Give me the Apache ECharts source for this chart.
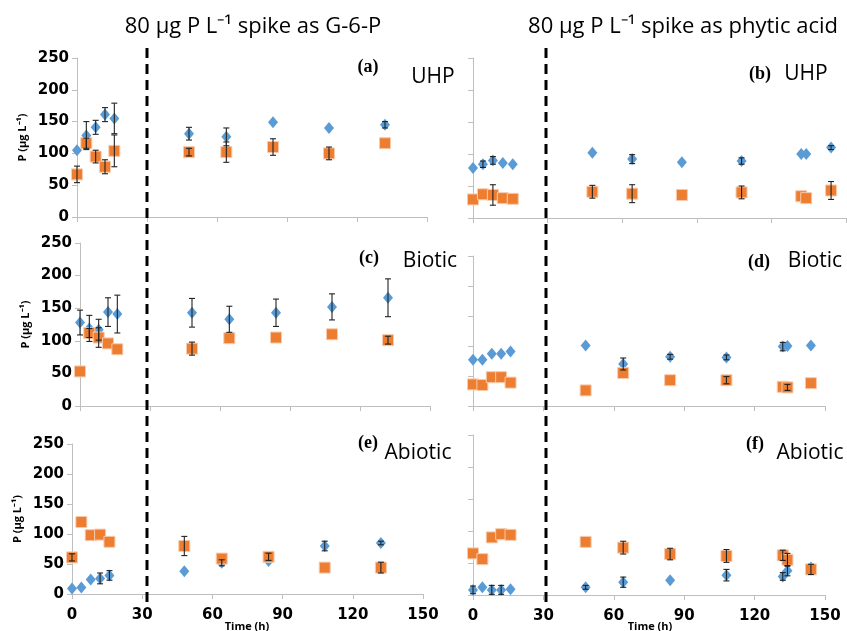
<!DOCTYPE html>
<html>
<head>
<meta charset="utf-8">
<script src="https://cdn.jsdelivr.net/npm/echarts@6/dist/echarts.min.js"></script>
<style>
  html, body { margin: 0; padding: 0; background: #fff; }
  #main { width: 847px; height: 631px; }
</style>
</head>
<body>
<div id="main"></div>
<script>
// sampling times (h)
var hoursLeft = [0, 4, 8, 12, 16, 48, 64, 84, 108, 132];
var hoursRight = [0, 4, 8, 12, 16, 48, 64, 84, 108, 132, 134, 144];
var xTicks = [0, 30, 60, 90, 120, 150];
var yTicks = [0, 50, 100, 150, 200, 250];

// (a) UHP, G-6-P
var aBlue = [105, 128, 141, 161, 155, 131, 126, 149, 140, 145];
var aBlueErr = [0, 22, 11, 11, 24, 10, 14, 0, 0, 5];
var aOrange = [67, 116, 95, 79, 104, 102, 102, 110, 100, 116];
var aOrangeErr = [13, 8, 10, 11, 25, 6, 16, 13, 10, 0];

// (b) UHP, phytic acid
var bBlue = [78, 84, 90, 86, 84, 102, 92, 87, 89, 100, 100, 110];
var bBlueErr = [0, 5, 6, 0, 0, 0, 7, 0, 5, 0, 0, 3];
var bOrange = [29, 37, 36, 31, 30, 41, 38, 36, 40, 34, 31, 43];
var bOrangeErr = [0, 0, 16, 0, 0, 10, 14, 0, 10, 0, 0, 14];

// (c) Biotic, G-6-P
var cBlue = [128, 119, 117, 144, 141, 143, 133, 143, 152, 166];
var cBlueErr = [19, 20, 16, 22, 29, 22, 20, 21, 20, 29];
var cOrange = [53, 112, 105, 96, 87, 88, 104, 105, 110, 101];
var cOrangeErr = [0, 7, 15, 0, 0, 10, 0, 0, 0, 6];

// (d) Biotic, phytic acid
var dBlue = [77, 77, 87, 87, 91, 101, 70, 82, 81, 99, 100, 101];
var dBlueErr = [0, 0, 0, 0, 0, 0, 10, 4, 4, 7, 0, 0];
var dOrange = [36, 35, 48, 48, 39, 26, 55, 43, 43, 32, 31, 38];
var dOrangeErr = [0, 0, 0, 0, 0, 0, 0, 0, 6, 0, 5, 0];

// (e) Abiotic, G-6-P
var eBlue = [9, 11, 24, 26, 31, 38, 52, 55, 80, 85];
var eBlueErr = [0, 0, 0, 9, 8, 0, 5, 0, 8, 3];
var eOrange = [61, 120, 98, 99, 87, 80, 59, 62, 44, 44];
var eOrangeErr = [6, 0, 0, 0, 0, 16, 0, 6, 0, 9];

// (f) Abiotic, phytic acid
var fBlue = [8, 12, 8, 8, 9, 12, 20, 23, 31, 29, 38, 43];
var fBlueErr = [6, 0, 7, 7, 0, 3, 8, 0, 9, 6, 8, 0];
var fOrange = [65, 56, 90, 95, 94, 83, 74, 64, 61, 62, 55, 40];
var fOrangeErr = [0, 0, 0, 0, 0, 0, 10, 9, 10, 8, 10, 8];

var BLUE = '#5B9BD5';
var ORANGE = '#ED7D31';
var AXIS = '#bfbfbf';

var panels = [
  { hours: hoursLeft, blue: aBlue, blueErr: aBlueErr, orange: aOrange, orangeErr: aOrangeErr,
    box: { left: 77, top: 58, width: 350, height: 159 }, yLabels: true, xLabels: false },
  { hours: hoursRight, blue: bBlue, blueErr: bBlueErr, orange: bOrange, orangeErr: bOrangeErr,
    box: { left: 473, top: 58, width: 373, height: 160 }, yLabels: false, xLabels: false },
  { hours: hoursLeft, blue: cBlue, blueErr: cBlueErr, orange: cOrange, orangeErr: cOrangeErr,
    box: { left: 80, top: 243, width: 350, height: 163 }, yLabels: true, xLabels: false },
  { hours: hoursRight, blue: dBlue, blueErr: dBlueErr, orange: dOrange, orangeErr: dOrangeErr,
    box: { left: 473, top: 256, width: 352, height: 150 }, yLabels: false, xLabels: false },
  { hours: hoursLeft, blue: eBlue, blueErr: eBlueErr, orange: eOrange, orangeErr: eOrangeErr,
    box: { left: 72, top: 444, width: 351, height: 150 }, yLabels: true, xLabels: true },
  { hours: hoursRight, blue: fBlue, blueErr: fBlueErr, orange: fOrange, orangeErr: fOrangeErr,
    box: { left: 473, top: 435, width: 352, height: 160 }, yLabels: false, xLabels: true }
];

var labelFont = { fontFamily: 'DejaVu Sans', fontWeight: 'bold', fontSize: 15, color: '#000' };

function errorBars(params, api) {
  var e = api.value(2);
  if (!e) return;
  var x = api.value(0), v = api.value(1);
  var top = api.coord([x, v + e]);
  var bot = api.coord([x, v - e]);
  var st = { stroke: '#222', lineWidth: 1.1 };
  return {
    type: 'group',
    children: [
      { type: 'line', shape: { x1: top[0], y1: top[1], x2: bot[0], y2: bot[1] }, style: st },
      { type: 'line', shape: { x1: top[0] - 3, y1: top[1], x2: top[0] + 3, y2: top[1] }, style: st },
      { type: 'line', shape: { x1: bot[0] - 3, y1: bot[1], x2: bot[0] + 3, y2: bot[1] }, style: st }
    ]
  };
}

var grids = [], xAxes = [], yAxes = [], series = [];
panels.forEach(function (p, i) {
  grids.push(p.box);
  xAxes.push({
    type: 'value', gridIndex: i, min: xTicks[0], max: xTicks[xTicks.length - 1],
    interval: xTicks[1] - xTicks[0],
    splitLine: { show: false },
    axisLine: { show: true, lineStyle: { color: AXIS, width: 1 } },
    axisTick: { show: true, inside: false, length: 5, lineStyle: { color: AXIS } },
    axisLabel: Object.assign({ show: p.xLabels, margin: 14 }, labelFont)
  });
  yAxes.push({
    type: 'value', gridIndex: i, min: yTicks[0], max: yTicks[yTicks.length - 1],
    interval: yTicks[1] - yTicks[0],
    splitLine: { show: false },
    axisLine: { show: true, lineStyle: { color: AXIS, width: 1 } },
    axisTick: { show: true, length: 5, lineStyle: { color: AXIS } },
    axisLabel: Object.assign({ show: p.yLabels, margin: 8 }, labelFont),
    name: p.yLabels ? 'P (μg L⁻¹)' : '',
    nameLocation: 'middle', nameGap: 49, nameRotate: 90,
    nameTextStyle: { fontFamily: 'Open Sans', fontWeight: 'bold', fontSize: 11, color: '#000' }
  });
  series.push({
    type: 'scatter', xAxisIndex: i, yAxisIndex: i, symbol: 'diamond', symbolSize: [10, 12],
    itemStyle: { color: BLUE, opacity: 1 },
    data: p.hours.map(function (h, k) { return [h, p.blue[k]]; }), z: 3
  });
  series.push({
    type: 'scatter', xAxisIndex: i, yAxisIndex: i, symbol: 'rect', symbolSize: 11,
    itemStyle: { color: ORANGE, opacity: 1, borderColor: '#f8cbad', borderWidth: 1 },
    data: p.hours.map(function (h, k) { return [h, p.orange[k]]; }), z: 3
  });
  series.push({
    type: 'custom', xAxisIndex: i, yAxisIndex: i, renderItem: errorBars, z: 4,
    encode: { x: 0, y: 1 },
    data: p.hours.map(function (h, k) { return [h, p.blue[k], p.blueErr[k]]; })
  });
  series.push({
    type: 'custom', xAxisIndex: i, yAxisIndex: i, renderItem: errorBars, z: 4,
    encode: { x: 0, y: 1 },
    data: p.hours.map(function (h, k) { return [h, p.orange[k], p.orangeErr[k]]; })
  });
});

var sans = 'Open Sans';
var serif = 'Liberation Serif';
function txt(x, y, s, size, family, weight) {
  return { type: 'text', x: x, y: y, z: 10,
    style: { text: s, fontSize: size, fontFamily: family, fontWeight: weight || 'normal',
      fill: '#000', textAlign: 'center', textVerticalAlign: 'middle' } };
}
function dash(x) {
  return { type: 'line', z: 5, shape: { x1: x, y1: 48, x2: x, y2: 605 },
    style: { stroke: '#000', lineWidth: 3, lineDash: [10, 6] } };
}

var option = {
  animation: false,
  backgroundColor: '#fff',
  grid: grids,
  xAxis: xAxes,
  yAxis: yAxes,
  series: series,
  graphic: [
    dash(147), dash(546),
    txt(253, 27, '80 μg P L⁻¹ spike as G-6-P', 22, sans),
    txt(683, 27, '80 μg P L⁻¹ spike as phytic acid', 22, sans),
    txt(368, 67, '(a)', 18, serif, 'bold'), txt(433, 77, 'UHP', 21, sans),
    txt(760, 74, '(b)', 18, serif, 'bold'), txt(806, 74, 'UHP', 21, sans),
    txt(369, 258, '(c)', 18, serif, 'bold'), txt(430, 261, 'Biotic', 21, sans),
    txt(759, 262, '(d)', 18, serif, 'bold'), txt(815, 261, 'Biotic', 21, sans),
    txt(368, 443, '(e)', 18, serif, 'bold'), txt(418, 453, 'Abiotic', 21, sans),
    txt(755, 444, '(f)', 18, serif, 'bold'), txt(810, 453, 'Abiotic', 21, sans),
    txt(247, 627, 'Time (h)', 11, sans, 'bold'),
    txt(650, 627, 'Time (h)', 11, sans, 'bold')
  ]
};

var myChart = echarts.init(document.getElementById('main'));
myChart.setOption(option);
</script>
</body>
</html>
